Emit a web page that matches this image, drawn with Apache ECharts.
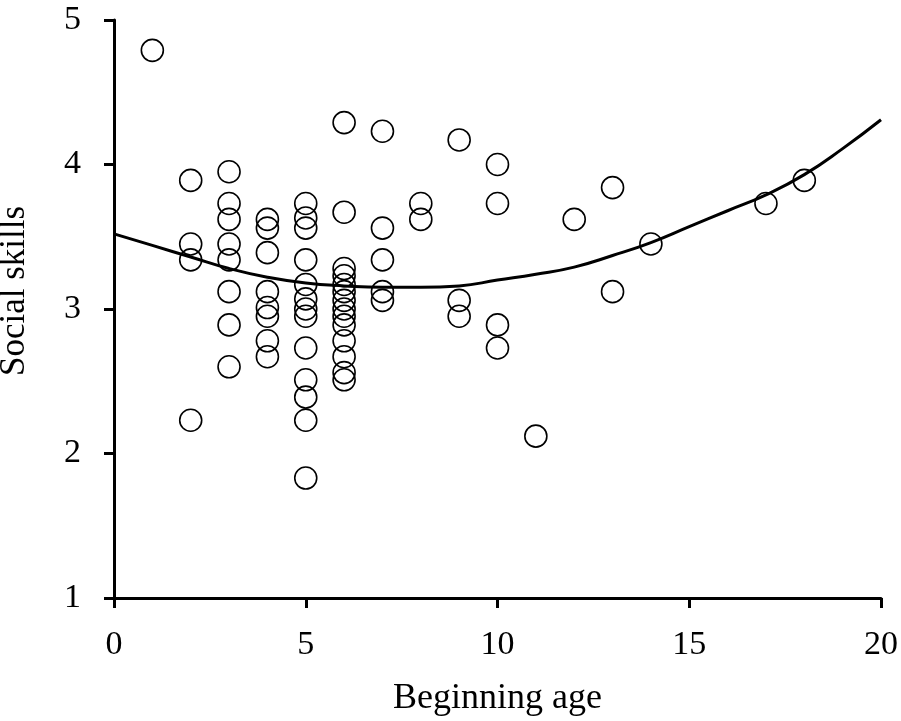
<!DOCTYPE html>
<html>
<head>
<meta charset="utf-8">
<title>Social skills vs beginning age</title>
<script src="https://cdn.jsdelivr.net/npm/echarts@6/dist/echarts.min.js"></script>
<style>
    html, body { margin: 0; padding: 0; background: #fff; }
    .box1 { width: 901px; height: 721px; }
</style>
</head>
<body>
<div class="box1"></div>
<script>
// each point: beginning age + social skills score
var ages = [
    1,
    2, 2, 2, 2,
    3, 3, 3, 3, 3, 3, 3, 3,
    4, 4, 4, 4, 4, 4, 4, 4,
    5, 5, 5, 5, 5, 5, 5, 5, 5, 5, 5, 5, 5,
    6, 6, 6, 6, 6, 6, 6, 6, 6, 6, 6, 6, 6, 6,
    7, 7, 7, 7, 7,
    8, 8,
    9, 9, 9,
    10, 10, 10, 10,
    11, 12, 13, 13, 14, 17, 18
];
var skills = [
    4.79,
    3.89, 3.45, 3.34, 2.23,
    3.95, 3.73, 3.62, 3.45, 3.34, 3.12, 2.89, 2.60,
    3.62, 3.56, 3.39, 3.12, 3.01, 2.95, 2.78, 2.67,
    3.73, 3.63, 3.56, 3.34, 3.17, 3.07, 3.00, 2.95, 2.73, 2.51, 2.39, 2.23, 1.83,
    4.29, 3.67, 3.28, 3.23, 3.17, 3.12, 3.06, 3.00, 2.95, 2.89, 2.78, 2.67, 2.56, 2.51,
    4.23, 3.56, 3.34, 3.12, 3.06,
    3.73, 3.62,
    4.17, 3.06, 2.95,
    4.00, 3.73, 2.89, 2.73,
    2.12, 3.62, 3.84, 3.12, 3.45, 3.73, 3.89
];
// fitted curve
var fitAge = [0, 1, 2, 3, 4, 5, 6, 7, 8, 9, 10, 11, 12, 13, 14, 15, 16, 17, 18, 19, 20];
var fitSkill = [3.52, 3.44, 3.36, 3.28, 3.22, 3.18, 3.16, 3.15, 3.15, 3.16, 3.20, 3.24, 3.29, 3.37, 3.46, 3.57, 3.68, 3.79, 3.93, 4.11, 4.31];

function $(sel) { return document.querySelector(sel); }
var myChart = echarts.init($('.box1'));

var font = '"Liberation Serif", "Times New Roman", serif';

function pairs(xs, ys) {
    var out = [];
    xs.forEach(function (x, i) {
        out.push([x, ys[i]]);
    });
    return out;
}

var option = {
    animation: false,
    backgroundColor: '#fff',
    grid: { left: 114, right: 20, top: 20, bottom: 123, outerBoundsMode: 'none' },
    xAxis: {
        type: 'value',
        min: 0, max: 20, interval: 5,
        name: 'Beginning age',
        nameLocation: 'middle',
        nameGap: 83,
        nameTextStyle: { fontFamily: font, fontSize: 36, color: '#000' },
        axisLine: { show: true, lineStyle: { color: '#000', width: 3 } },
        axisTick: { show: true, inside: false, length: 10, lineStyle: { color: '#000', width: 3 } },
        axisLabel: { fontFamily: font, fontSize: 34, color: '#000', margin: 30 },
        splitLine: { show: false }
    },
    yAxis: {
        type: 'value',
        min: 1, max: 5, interval: 1,
        name: 'Social skills',
        nameLocation: 'middle',
        nameGap: 82,
        nameTextStyle: { fontFamily: font, fontSize: 35, color: '#000', padding: [0, 0, 0, 36] },
        axisLine: { show: true, lineStyle: { color: '#000', width: 3 } },
        axisTick: { show: true, inside: false, length: 10, lineStyle: { color: '#000', width: 3 } },
        axisLabel: { fontFamily: font, fontSize: 34, color: '#000', margin: 33 },
        splitLine: { show: false }
    },
    series: [
        {
            type: 'scatter',
            data: pairs(ages, skills),
            symbol: 'circle',
            symbolSize: 22,
            itemStyle: { color: 'rgba(0,0,0,0)', borderColor: '#000', borderWidth: 1.6, opacity: 1 },
            z: 2
        },
        {
            type: 'line',
            data: pairs(fitAge, fitSkill),
            smooth: true,
            showSymbol: false,
            lineStyle: { color: '#000', width: 3 },
            z: 3
        }
    ]
};
myChart.setOption(option);
</script>
</body>
</html>
